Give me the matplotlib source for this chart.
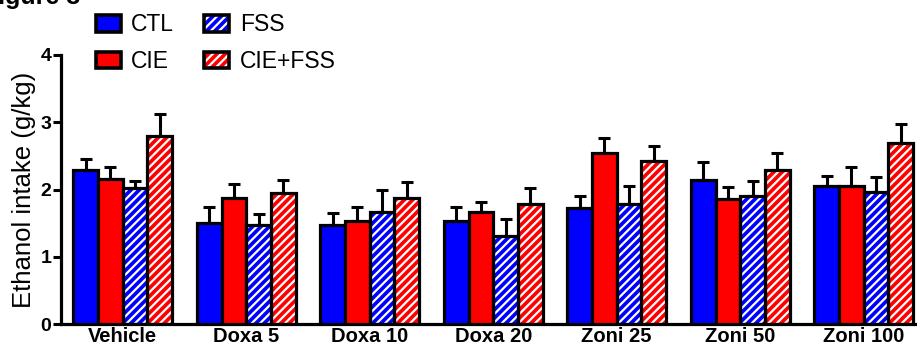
import numpy as np
import matplotlib.pyplot as plt
from matplotlib.patches import Patch
from matplotlib.legend_handler import HandlerTuple

plt.rcParams['font.family'] = ['Liberation Sans', 'DejaVu Sans']
plt.rcParams['hatch.linewidth'] = 1.6

groups = ["Vehicle", "Doxa 5", "Doxa 10", "Doxa 20", "Zoni 25", "Zoni 50", "Zoni 100"]
series = ["CTL", "CIE", "FSS", "CIE+FSS"]

ctl = [2.29, 1.51, 1.47, 1.53, 1.73, 2.14, 2.05]
ctl_err = [0.16, 0.23, 0.18, 0.21, 0.17, 0.27, 0.15]
cie = [2.16, 1.88, 1.53, 1.66, 2.54, 1.86, 2.05]
cie_err = [0.17, 0.20, 0.21, 0.16, 0.23, 0.18, 0.28]
fss = [2.02, 1.47, 1.67, 1.31, 1.78, 1.90, 1.96]
fss_err = [0.11, 0.17, 0.33, 0.25, 0.28, 0.23, 0.23]
ciefss = [2.80, 1.95, 1.88, 1.78, 2.42, 2.29, 2.69]
ciefss_err = [0.32, 0.19, 0.23, 0.24, 0.22, 0.26, 0.29]

colors = ["#0000FF", "#FF0000", "#0000FF", "#FF0000"]
hatched = [False, False, True, True]
values = [ctl, cie, fss, ciefss]
errors = [ctl_err, cie_err, fss_err, ciefss_err]

fig = plt.figure(figsize=(9.17, 3.47), dpi=100)
ax = fig.add_axes([0.0665, 0.066, 0.932, 0.7755])

x = np.arange(len(groups))
w = 0.2
for i in range(4):
    pos = x + (i - 1.5) * w
    if hatched[i]:
        ax.bar(pos, values[i], w, color=colors[i], edgecolor="white", hatch="////", linewidth=0, zorder=2)
        ax.bar(pos, values[i], w, fill=False, edgecolor="black", linewidth=2.3, zorder=3)
    else:
        ax.bar(pos, values[i], w, color=colors[i], edgecolor="black", linewidth=2.3, zorder=3)
    ax.errorbar(pos, values[i], yerr=[np.zeros(len(groups)), errors[i]], fmt="none",
                ecolor="black", elinewidth=2.2, capsize=4.5, capthick=2.2, zorder=1)

ax.set_xlim(-0.5, 6.42)
ax.set_ylim(0, 4)
ax.set_yticks([0, 1, 2, 3, 4])
ax.set_xticks(x)
ax.set_xticklabels(groups, fontsize=14.5, fontweight="bold")
ax.tick_params(axis="x", length=0, pad=2)
ax.tick_params(axis="y", length=6, width=2.2, labelsize=14, pad=1)
for lab in ax.get_yticklabels():
    lab.set_fontweight("bold")
for s in ["top", "right"]:
    ax.spines[s].set_visible(False)
for s in ["left", "bottom"]:
    ax.spines[s].set_linewidth(2.3)
ax.set_ylabel("Ethanol intake (g/kg)", fontsize=18.5, labelpad=3)

handles = []
for i in range(4):
    if hatched[i]:
        h = (Patch(facecolor=colors[i], edgecolor="white", hatch="////", linewidth=0),
             Patch(fill=False, edgecolor="black", linewidth=2.6))
    else:
        h = Patch(facecolor=colors[i], edgecolor="black", linewidth=2.6)
    handles.append(h)
fig.legend(handles, series, loc="upper left", bbox_to_anchor=(0.092, 0.995), ncol=2,
           frameon=False, fontsize=16.5, handlelength=1.1, handleheight=0.75,
           handletextpad=0.45, columnspacing=1.3, labelspacing=0.6, borderpad=0,
           handler_map={tuple: HandlerTuple(ndivide=1)})

fig.text(-0.018, 0.988, "Figure 3", fontsize=18, fontweight="bold", va="baseline")

fig.savefig("out.png", dpi=100)
